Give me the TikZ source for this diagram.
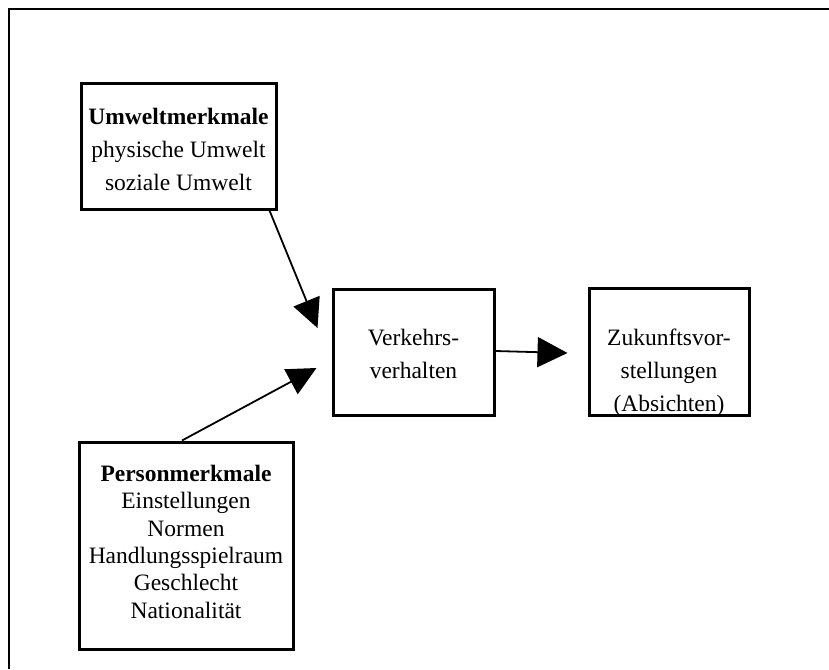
\documentclass[tikz,border=0pt]{standalone}
\usepackage{fontspec}
\setmainfont{Liberation Serif}
\usetikzlibrary{arrows.meta,calc}
\tikzset{
  boxnode/.style={draw=black, line width=3pt, inner sep=0pt, fill=none},
  txt/.style={align=center, inner sep=0pt, font=\fontsize{23.5}{33}\selectfont},
  txttight/.style={align=center, inner sep=0pt, font=\fontsize{23.5}{27.3}\selectfont},
  conn/.style={line width=1.8pt, -{Triangle[length=29pt, width=28pt]}},
}
\begin{document}
\begin{tikzpicture}[x=1pt, y=-1pt]
\useasboundingbox (0,0) rectangle (829,669);
% outer frame (top and left only)
\draw[line width=1.5pt] (9,669) -- (9,9) -- (829,9);
% boxes
\node[boxnode, minimum width=195pt, minimum height=126pt] (umwelt) at (178.5,146) {};
\node[boxnode, minimum width=161pt, minimum height=126pt] (verkehr) at (413.5,352) {};
\node[boxnode, minimum width=160pt, minimum height=127pt] (zukunft) at (669,352) {};
\node[boxnode, minimum width=214pt, minimum height=207pt] (person) at (186,545.5) {};
% texts (base anchor = baseline of last line)
\node[txt, anchor=base] (umweltT) at (178.5,190) {\textbf{Umweltmerkmale}\\physische Umwelt\\soziale Umwelt};
\node[txt, anchor=base] (verkehrT) at (413.5,378.3) {Verkehrs-\\verhalten};
\node[txt, anchor=base] (zukunftT) at (669,411.7) {Zukunftsvor-\\stellungen\\(Absichten)};
\node[txttight, anchor=base] (personT) at (186,618) {\textbf{Personmerkmale}\\Einstellungen\\Normen\\Handlungsspielraum\\Geschlecht\\Nationalität};
% connectors
\draw[conn] ([xshift=-8pt]umwelt.south east) -- ([shift={(-14,-24)}]verkehr.west);
\draw[conn] ([xshift=-4pt]person.north) -- ([shift={(-15,16)}]verkehr.west);
\draw[line width=1.8pt, -{Triangle[length=30pt, width=30pt]}] ([yshift=1pt]verkehr.east) -- ([shift={(-20,1)}]zukunft.west);
\end{tikzpicture}
\end{document}
